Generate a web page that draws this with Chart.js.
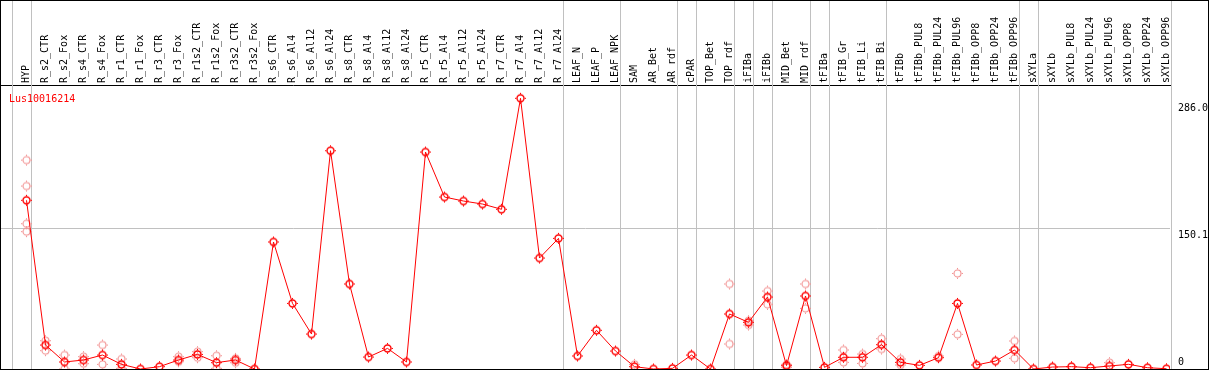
<!DOCTYPE html>
<html>
<head>
<meta charset="utf-8">
<script src="https://cdn.jsdelivr.net/npm/chart.js@4.4.1/dist/chart.umd.min.js"></script>
<style>
  body { margin: 0; background: #fff; }
  #wrap { width: 1207px; height: 368px; border: 1px solid #000; position: relative; }
</style>
</head>
<body>
<div id="wrap"><canvas id="canvas"></canvas></div>
<script>
var geneId = 'Lus10016214';

var samples = [
  'HYP', 'R_s2_CTR', 'R_s2_Fox', 'R_s4_CTR', 'R_s4_Fox', 'R_r1_CTR', 'R_r1_Fox', 'R_r3_CTR', 'R_r3_Fox',
  'R_r1s2_CTR', 'R_r1s2_Fox', 'R_r3s2_CTR', 'R_r3s2_Fox',
  'R_s6_CTR', 'R_s6_Al4', 'R_s6_Al12', 'R_s6_Al24', 'R_s8_CTR', 'R_s8_Al4', 'R_s8_Al12', 'R_s8_Al24',
  'R_r5_CTR', 'R_r5_Al4', 'R_r5_Al12', 'R_r5_Al24', 'R_r7_CTR', 'R_r7_Al4', 'R_r7_Al12', 'R_r7_Al24',
  'LEAF_N', 'LEAF_P', 'LEAF_NPK', 'SAM', 'AR_Bet', 'AR_rdf', 'cPAR', 'TOP_Bet', 'TOP_rdf',
  'iFIBa', 'iFIBb', 'MID_Bet', 'MID_rdf', 'tFIBa', 'tFIB_Gr', 'tFIB_Li', 'tFIB_Bi',
  'tFIBb', 'tFIBb_PUL8', 'tFIBb_PUL24', 'tFIBb_PUL96', 'tFIBb_OPP8', 'tFIBb_OPP24', 'tFIBb_OPP96',
  'sXYLa', 'sXYLb', 'sXYLb_PUL8', 'sXYLb_PUL24', 'sXYLb_PUL96', 'sXYLb_OPP8', 'sXYLb_OPP24', 'sXYLb_OPP96'
];

// mean expression per sample
var meanValues = [
  180, 25.6, 7.5, 9.6, 14.9, 5.0, 0, 2.5, 9.6,
  15.6, 6.8, 9.6, 0,
  135.5, 70, 37.3, 232.9, 90.7, 12.8, 22.0, 7.5,
  231.5, 183.5, 179.2, 176, 170.4, 288.8, 118.4, 139.4,
  13.9, 41.3, 19.2, 2.5, 0, 0.7, 14.9, 0, 58.7,
  49.8, 76.8, 3.6, 77.9, 1.8, 12.5, 12.5, 26,
  7.1, 3.9, 12.1, 70, 4.3, 8.5, 20.3,
  0, 2.1, 2.5, 1.4, 3.2, 5.0, 1.4, 0.3
];

// replicates (null where hidden behind the mean)
var rep1 = [
  222.9, 30.2, 14.9, 13.2, 25.6, 10.7, null, null, 13.2,
  18.5, 14.2, 11.4, null,
  null, null, null, null, null, null, null, null,
  null, null, null, null, null, null, null, null,
  null, null, null, 5.0, null, null, null, null, 90.7,
  51.5, 83.2, 5.0, 90.7, null, 20.3, 16, 32.4,
  10.7, null, 13.9, 102, null, null, 29.9,
  null, null, null, null, 6.8, null, null, null
];
var rep2 = [
  195.2, 19.6, 0, 5.7, 5.0, 0.7, null, null, 7.8,
  12.1, 0.7, 6.7, null,
  null, null, null, null, null, null, null, null,
  null, null, null, null, null, null, null, null,
  null, null, null, null, null, null, null, null, 26.7,
  46.9, 69.0, 1.8, 64.7, null, 7.1, 6.0, 21.3,
  4.3, null, null, 37, null, null, 11.4,
  null, null, null, null, null, null, null, null
];
var rep3 = [155];
var rep4 = [146.5];

var yTicks = [0, 150.1, 286.0];

// last sample index of each group, separators drawn after them
var groupEnds = [-1, 0, 28, 31, 34, 35, 37, 38, 39, 41, 42, 45, 52, 53, 60];

function toPoints(arr) {
  var out = [];
  for (var i = 0; i < arr.length; i++) {
    if (arr[i] !== null && arr[i] !== undefined) {
      out.push({x: i, y: arr[i]});
    }
  }
  return out;
}

// small ring with four ticks, used as point marker
function makeMarker(color, ring) {
  var c = document.createElement('canvas');
  c.width = 13;
  c.height = 13;
  var g = c.getContext('2d');
  g.strokeStyle = color;
  g.lineWidth = ring;
  g.beginPath();
  g.arc(6.5, 6.5, 3.5, 0, Math.PI * 2);
  g.stroke();
  g.fillStyle = color;
  g.fillRect(6, 1, 1, 1.3);
  g.fillRect(6, 10.7, 1, 1.3);
  g.fillRect(1, 6, 1.3, 1);
  g.fillRect(10.7, 6, 1.3, 1);
  return c;
}

var meanMarker = makeMarker('#ff0000', 1.4);
var repMarker = makeMarker('#f29191', 1.1);

var monoFont = {family: "'DejaVu Sans Mono', monospace", size: 10};

var decorPlugin = {
  id: 'decor',
  beforeDatasetsDraw: function(chart) {
    var ctx = chart.ctx;
    var xs = chart.scales.x;
    ctx.save();
    ctx.fillStyle = '#c0c0c0';
    groupEnds.forEach(function(i) {
      var px = Math.floor(xs.getPixelForValue(i + 0.25));
      ctx.fillRect(px, 0, 1, chart.height);
    });
    ctx.restore();
  },
  afterDraw: function(chart) {
    var ctx = chart.ctx;
    var ys = chart.scales.y;
    var area = chart.chartArea;
    ctx.save();
    ctx.font = "10px 'DejaVu Sans Mono', monospace";
    ctx.fillStyle = '#ff0000';
    ctx.textBaseline = 'alphabetic';
    ctx.fillText(geneId, area.left + 8, area.top + 17);
    ctx.fillStyle = '#000';
    yTicks.forEach(function(v) {
      var py = ys.getPixelForValue(v);
      if (v === 0) {
        ctx.textBaseline = 'bottom';
        ctx.fillText('0', area.right + 8, py - 2);
      } else {
        ctx.textBaseline = 'top';
        ctx.fillText(v.toFixed(1), area.right + 8, py + 2);
      }
    });
    ctx.restore();
  }
};

var repStyle = {
  showLine: false,
  pointStyle: repMarker,
  pointRadius: 6,
  pointHoverRadius: 6
};

var data = {
  datasets: [
    {
      label: geneId,
      data: toPoints(meanValues),
      borderColor: '#ff0000',
      borderWidth: 1,
      tension: 0,
      pointStyle: meanMarker,
      pointRadius: 6,
      pointHoverRadius: 6,
      fill: false
    },
    Object.assign({data: toPoints(rep1)}, repStyle),
    Object.assign({data: toPoints(rep2)}, repStyle),
    Object.assign({data: toPoints(rep3)}, repStyle),
    Object.assign({data: toPoints(rep4)}, repStyle)
  ]
};

var config = {
  type: 'line',
  data: data,
  plugins: [decorPlugin],
  options: {
    responsive: true,
    maintainAspectRatio: false,
    animation: false,
    devicePixelRatio: 1,
    layout: {padding: 0, autoPadding: false},
    plugins: {
      legend: {display: false},
      tooltip: {enabled: false}
    },
    scales: {
      x: {
        type: 'linear',
        position: 'top',
        min: -25.5 / 19,
        max: (1169 - 25.5) / 19,
        afterBuildTicks: function(scale) {
          scale.ticks = samples.map(function(s, i) { return {value: i}; });
        },
        afterFit: function(scale) {
          scale.height = 84;
          scale.paddingLeft = 0;
          scale.paddingRight = 0;
        },
        grid: {display: false, drawTicks: false},
        border: {display: true, color: '#000', width: 1},
        ticks: {
          autoSkip: false,
          minRotation: 90,
          maxRotation: 90,
          padding: 2,
          labelOffset: 12,
          color: '#000',
          font: monoFont,
          callback: function(v) { return samples[v]; }
        }
      },
      y: {
        position: 'right',
        min: 0,
        max: 303,
        afterFit: function(scale) {
          scale.width = 38;
          scale.paddingTop = 0;
          scale.paddingBottom = 0;
        },
        afterBuildTicks: function(scale) {
          scale.ticks = yTicks.map(function(v) { return {value: v}; });
        },
        grid: {
          drawTicks: false,
          color: function(c) { return c.tick && c.tick.value === 150.1 ? '#c0c0c0' : 'rgba(0,0,0,0)'; }
        },
        border: {display: false},
        ticks: {display: false}
      }
    }
  }
};

var chart = new Chart(document.getElementById('canvas'), config);
</script>
</body>
</html>
